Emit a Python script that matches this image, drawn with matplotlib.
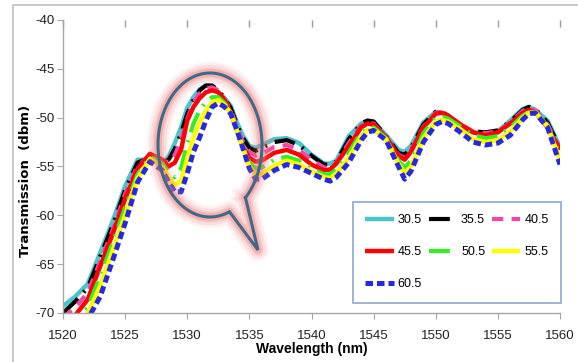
import numpy as np
import matplotlib
matplotlib.use('Agg')
import matplotlib.pyplot as plt

plt.rcParams['font.family'] = ['Liberation Sans Narrow', 'Liberation Sans', 'DejaVu Sans']
plt.rcParams['axes.unicode_minus'] = False

# wavelength grid (nm)
wl = [1520, 1521, 1522, 1523, 1524, 1525, 1526, 1527, 1528, 1528.5, 1529, 1529.5,
      1530, 1530.5, 1531, 1531.5, 1532, 1532.5, 1533, 1533.5, 1534, 1534.5, 1535,
      1535.5, 1536, 1537, 1538, 1539, 1540, 1541, 1541.5, 1542, 1543, 1544, 1544.5,
      1545, 1546, 1547, 1547.5, 1548, 1549, 1550, 1550.5, 1551, 1552, 1553, 1554,
      1555, 1556, 1557, 1557.5, 1558, 1559, 1560]

# transmission (dbm) per temperature
t30_5 = [-69.3, -68.3, -67.0, -63.8, -60.6, -57.0, -54.3, -54.3, -54.7, -54.0, -52.6, -51.0,
         -49.0, -47.9, -47.1, -46.7, -46.8, -47.4, -48.0, -48.8, -50.5, -51.9, -52.9,
         -53.1, -52.8, -52.2, -52.1, -52.6, -53.8, -54.7, -54.7, -54.4, -51.9, -50.6, -50.3,
         -50.4, -51.8, -53.3, -53.5, -52.9, -50.5, -49.4, -49.5, -49.8, -50.9, -51.5, -51.6,
         -51.4, -50.3, -49.1, -48.9, -49.2, -50.3, -53.0]
t35_5 = [-70.0, -68.8, -67.4, -64.2, -61.0, -57.4, -54.6, -54.1, -54.6, -54.3, -53.2, -51.6,
         -49.6, -48.2, -47.2, -46.7, -46.7, -47.2, -48.0, -49.0, -50.7, -52.1, -53.1,
         -53.4, -53.1, -52.5, -52.3, -52.8, -53.9, -54.8, -54.8, -54.5, -52.2, -50.6, -50.3,
         -50.4, -51.9, -53.6, -53.8, -53.1, -50.7, -49.4, -49.4, -49.8, -50.8, -51.4, -51.5,
         -51.3, -50.4, -49.2, -48.9, -49.1, -50.5, -53.1]
t40_5 = [-70.5, -69.4, -67.9, -64.7, -61.5, -57.8, -54.9, -53.9, -54.4, -54.6, -53.8, -52.3,
         -50.1, -48.5, -47.5, -47.0, -46.9, -47.2, -48.1, -49.2, -51.0, -52.5, -53.5,
         -53.9, -53.7, -53.0, -52.8, -53.3, -54.3, -55.1, -55.1, -54.6, -52.6, -50.8, -50.5,
         -50.6, -52.0, -53.8, -54.1, -53.3, -50.9, -49.5, -49.4, -49.8, -50.7, -51.4, -51.6,
         -51.4, -50.5, -49.3, -49.0, -49.2, -50.7, -53.2]
t45_5 = [-71.0, -70.2, -68.6, -65.2, -61.9, -58.3, -55.2, -53.7, -54.3, -55.0, -54.6, -53.3,
         -50.3, -48.9, -48.0, -47.4, -47.2, -47.4, -48.2, -49.5, -51.3, -53.0, -54.1,
         -54.5, -54.4, -53.6, -53.3, -53.8, -54.8, -55.4, -55.3, -54.7, -52.9, -51.0, -50.6,
         -50.7, -52.0, -53.9, -54.3, -53.5, -51.0, -49.6, -49.5, -49.8, -50.7, -51.5, -51.8,
         -51.5, -50.6, -49.5, -49.2, -49.4, -51.0, -53.3]
t50_5 = [-71.5, -70.8, -69.4, -66.2, -62.8, -59.2, -55.8, -54.0, -54.7, -55.6, -56.1, -55.2,
         -52.6, -50.6, -49.2, -48.4, -47.9, -47.9, -48.5, -49.5, -51.3, -53.1, -54.6,
         -55.2, -55.1, -54.3, -54.0, -54.4, -55.2, -55.8, -55.8, -55.3, -53.6, -51.5, -51.0,
         -51.0, -52.1, -54.4, -55.1, -54.4, -51.6, -50.0, -49.9, -50.1, -50.9, -51.8, -52.1,
         -51.9, -51.0, -49.8, -49.4, -49.4, -50.9, -53.8]
t55_5 = [-71.8, -71.2, -70.0, -67.2, -63.6, -60.0, -56.2, -54.2, -55.0, -56.1, -56.9, -56.5,
         -54.2, -52.0, -50.5, -49.3, -48.4, -48.2, -48.7, -49.5, -51.3, -53.1, -55.0,
         -55.8, -55.8, -54.9, -54.4, -54.8, -55.5, -56.1, -56.2, -55.7, -54.1, -51.9, -51.3,
         -51.2, -52.2, -54.7, -55.7, -55.0, -52.1, -50.4, -50.2, -50.4, -51.2, -52.2, -52.5,
         -52.3, -51.4, -50.0, -49.5, -49.4, -50.9, -54.3]
t60_5 = [-72.0, -71.5, -70.6, -68.3, -64.6, -60.8, -56.6, -54.5, -55.4, -56.6, -57.6, -57.6,
         -55.7, -53.5, -52.0, -50.3, -48.9, -48.5, -48.9, -49.6, -51.3, -53.2, -55.2,
         -56.3, -56.3, -55.4, -54.8, -55.1, -55.7, -56.3, -56.5, -56.1, -54.6, -52.3, -51.5,
         -51.3, -52.3, -55.0, -56.3, -55.5, -52.5, -50.7, -50.4, -50.6, -51.5, -52.5, -52.8,
         -52.6, -51.8, -50.2, -49.6, -49.5, -51.0, -54.8]

labels = ['30.5', '35.5', '40.5', '45.5', '50.5', '55.5', '60.5']
series = [t30_5, t35_5, t40_5, t45_5, t50_5, t55_5, t60_5]
colors = ['#4BC4CC', '#000000', '#F048A8', '#FF0000', '#33EE22', '#FFFF00', '#2828E0']
styles = ['-', (0, (5, 2, 0.5, 2)), (0, (2.7, 2)), '-', (0, (5, 2, 0.5, 2)), '-', (0, (1.5, 0.8))]
widths = [3.2, 3.0, 3.0, 3.2, 3.0, 3.2, 3.6]

W, H = 578, 362
fig = plt.figure(figsize=(W / 100, H / 100), dpi=100)
ax = fig.add_axes([63 / W, 1 - 313 / H, (560 - 63) / W, (313 - 20) / H])

lines = []
for y, lab, c, ls, lw in zip(series, labels, colors, styles, widths):
    ln, = ax.plot(wl, y, color=c, linestyle=ls, linewidth=lw, label=lab,
                  solid_capstyle='butt', dash_capstyle='butt', clip_on=True)
    lines.append(ln)

ax.set_xlim(1520, 1560)
ax.set_ylim(-70, -40)
ax.set_xticks(np.arange(1520, 1561, 5))
ax.set_yticks(np.arange(-70, -39, 5))

for s in ['top', 'right']:
    ax.spines[s].set_visible(False)
for s in ['left', 'bottom']:
    ax.spines[s].set_color('#A6A6A6')
    ax.spines[s].set_linewidth(1)
ax.tick_params(axis='both', colors='#A6A6A6', labelcolor='#222222', labelsize=9.5, length=4)
ax.tick_params(axis='x', pad=8)
ax.tick_params(axis='y', pad=2)

# inward ticks along the top edge, no line
top = ax.secondary_xaxis('top')
top.set_xticks(np.arange(1520, 1561, 5))
top.tick_params(direction='in', length=5, width=1, colors='#999999', labeltop=False)
top.spines['top'].set_visible(False)

ax.set_xlabel('Wavelength (nm)', fontsize=10, fontweight='bold', labelpad=0)
ax.set_ylabel('Transmission  (dbm)', fontsize=9.5, fontweight='bold', family='DejaVu Sans')
ax.yaxis.set_label_coords(-0.062, 0.45)

order = [0, 3, 6, 1, 4, 2, 5]
leg = ax.legend([lines[i] for i in order], [labels[i] for i in order], ncol=3,
                loc='upper left', bbox_to_anchor=(0.583, 0.379, 0.419, 0.0), mode='expand',
                fancybox=False, framealpha=1, edgecolor='#8FA8CC', fontsize=9,
                handlelength=2.3, handletextpad=0.3, columnspacing=0.8, labelspacing=1.6,
                borderpad=1.0, borderaxespad=0)
leg.get_frame().set_linewidth(1.2)

# callout bubble around the main peak (figure pixel coords)
cx, cy, a, b = 210, 145, 52, 72
t0, t1 = np.deg2rad(-47), np.deg2rad(360 - 68)
t = np.linspace(t0, t1, 200)
px = cx + a * np.cos(t)
py = cy - b * np.sin(t)
px = np.concatenate([px, [258, px[0]]])
py = np.concatenate([py, [250, py[0]]])
fx, fy = px / W, 1 - py / H
for lw, al in [(16, 0.1), (12, 0.14), (8, 0.2), (5.5, 0.3)]:
    fig.add_artist(plt.Line2D(fx, fy, color='#F07878', linewidth=lw, alpha=al,
                              transform=fig.transFigure, solid_joinstyle='round'))
fig.add_artist(plt.Line2D(fx, fy, color='#3E6A88', linewidth=2.2,
                          transform=fig.transFigure, solid_joinstyle='miter'))

# chart area border
fig.add_artist(plt.Line2D([13 / W, 13 / W, 1.0], [0, 1 - 5 / H, 1 - 5 / H], color='#BFBFBF',
                          linewidth=1.2, transform=fig.transFigure))

fig.savefig('out.png', dpi=100)
